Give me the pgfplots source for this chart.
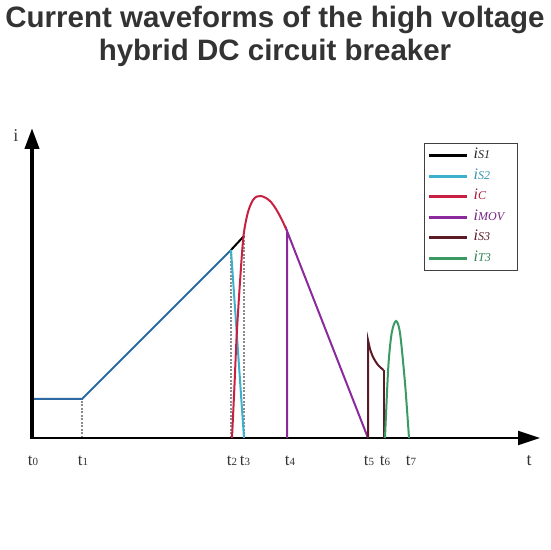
\documentclass[border=0pt]{standalone}
\usepackage{pgfplots}
\pgfplotsset{compat=1.18}
\usepackage{fontspec}
\setmainfont{Liberation Serif}
\newfontfamily\titlefont{Liberation Sans}
\usetikzlibrary{arrows.meta}
\definecolor{ramp}{HTML}{2D6AA3}
\definecolor{cyanc}{HTML}{3DB0CC}
\definecolor{redc}{HTML}{C82040}
\definecolor{purp}{HTML}{8A2A9C}
\definecolor{maroon}{HTML}{5A1A26}
\definecolor{greenc}{HTML}{3A9A64}
\definecolor{dashc}{HTML}{8A8A8A}
\newcommand{\lab}[1]{\makebox[40pt][l]{\textit{i}{\fontsize{12}{12}\selectfont\textit{#1}}}}
\newcommand{\tl}[1]{t{\fontsize{11}{11}\selectfont #1}}
\begin{document}
\begin{tikzpicture}
\begin{axis}[
  scale only axis, width=550pt, height=550pt,
  xmin=0, xmax=550, ymin=0, ymax=550,
  hide axis, clip=false,
  legend style={at={(axis cs:424,407)}, anchor=north west, draw=black!75, line width=1.3pt,
    inner xsep=3pt, inner ysep=2pt, font=\fontsize{16}{16}\selectfont,
    nodes={inner sep=1pt, text height=12pt, text depth=6.5pt}, column sep=4pt},
  legend cell align=left,
  legend image code/.code={\draw[#1, line width=3pt] (0pt,0pt) -- (38pt,0pt);},
]
\path (rel axis cs:0,0) rectangle (rel axis cs:1,1);
% dashed guides
\addplot[forget plot, dashc, line width=2pt, dash pattern=on 2pt off 1.5pt] coordinates {(82,112) (82,151)};
\addplot[forget plot, dashc, line width=2pt, dash pattern=on 2pt off 1.5pt] coordinates {(231,112) (231,300)};
\addplot[forget plot, dashc, line width=2pt, dash pattern=on 2pt off 1.5pt] coordinates {(244,112) (244,314)};
% axes
\addplot[forget plot, black, line width=2.2pt, -{Triangle[length=22pt,width=14pt]}] coordinates {(31,112) (540,112)};
\addplot[forget plot, black, line width=4pt, -{Triangle[length=21pt,width=14pt]}] coordinates {(32,111) (32,422)};
% ramp
\addplot[forget plot, ramp, line width=2pt] coordinates {(34,151) (82,151) (231,300)};
% is1
\addplot[forget plot, black, line width=2pt] coordinates {(231,300) (244,314)};
% is2
\addplot[forget plot, cyanc, line width=2pt] coordinates {(231,300) (244,112)};
% ic
\addplot[forget plot, redc, line width=2pt, smooth] coordinates {(232,112) (234.5,165) (236.7,215) (240,268) (243.5,314) (248,338) (253,350) (257,353.5) (261,354) (266,352) (271,348) (276,341) (282,330) (287,319)};
% iMOV
\addplot[forget plot, purp, line width=2pt] coordinates {(287,112) (287,319) (368,112)};
% is3
\addplot[forget plot, maroon, line width=2pt, smooth] coordinates {(370,201) (373,193) (378,185) (383.5,180)};
\addplot[forget plot, maroon, line width=2pt] coordinates {(368,112) (368,210) (370,201)};
\addplot[forget plot, maroon, line width=2pt] coordinates {(383.5,180) (383.5,112)};
% iT3
\addplot[forget plot, greenc, line width=2pt, smooth] coordinates {(385,112) (388.3,183) (391.7,217) (396,229) (400,217) (405,167) (409,112)};
% legend
\addlegendimage{black}\addlegendentry{\color{black!85}\lab{S1}}
\addlegendimage{cyanc}\addlegendentry{\color{cyanc!85!black}\lab{S2}}
\addlegendimage{redc}\addlegendentry{\color{redc!85!black}\lab{C}}
\addlegendimage{purp}\addlegendentry{\color{purp!85!black}\lab{MOV}}
\addlegendimage{maroon}\addlegendentry{\color{maroon}\lab{S3}}
\addlegendimage{greenc}\addlegendentry{\color{greenc!85!black}\lab{T3}}
% labels
\node[text=black!75, font=\fontsize{18}{18}\selectfont, anchor=base] at (axis cs:16,408) {i};
\node[text=black!80, font=\fontsize{18}{18}\selectfont, anchor=base] at (axis cs:529,84) {t};
\foreach \x/\n in {33/0, 83/1, 232/2, 245/3, 290/4, 369/5, 385/6, 411/7}{
  \edef\tmp{\noexpand\node[text=black!80, font=\noexpand\fontsize{17}{17}\noexpand\selectfont, anchor=base] at (axis cs:\x,84) {\noexpand\tl{\n}};}\tmp
}
\node[font=\titlefont\bfseries\fontsize{29.5}{29.5}\selectfont, text=black!80, anchor=base] at (axis cs:275,522) {Current waveforms of the high voltage};
\node[font=\titlefont\bfseries\fontsize{29.5}{29.5}\selectfont, text=black!80, anchor=base] at (axis cs:275,489) {hybrid DC circuit breaker};
\end{axis}
\end{tikzpicture}
\end{document}
